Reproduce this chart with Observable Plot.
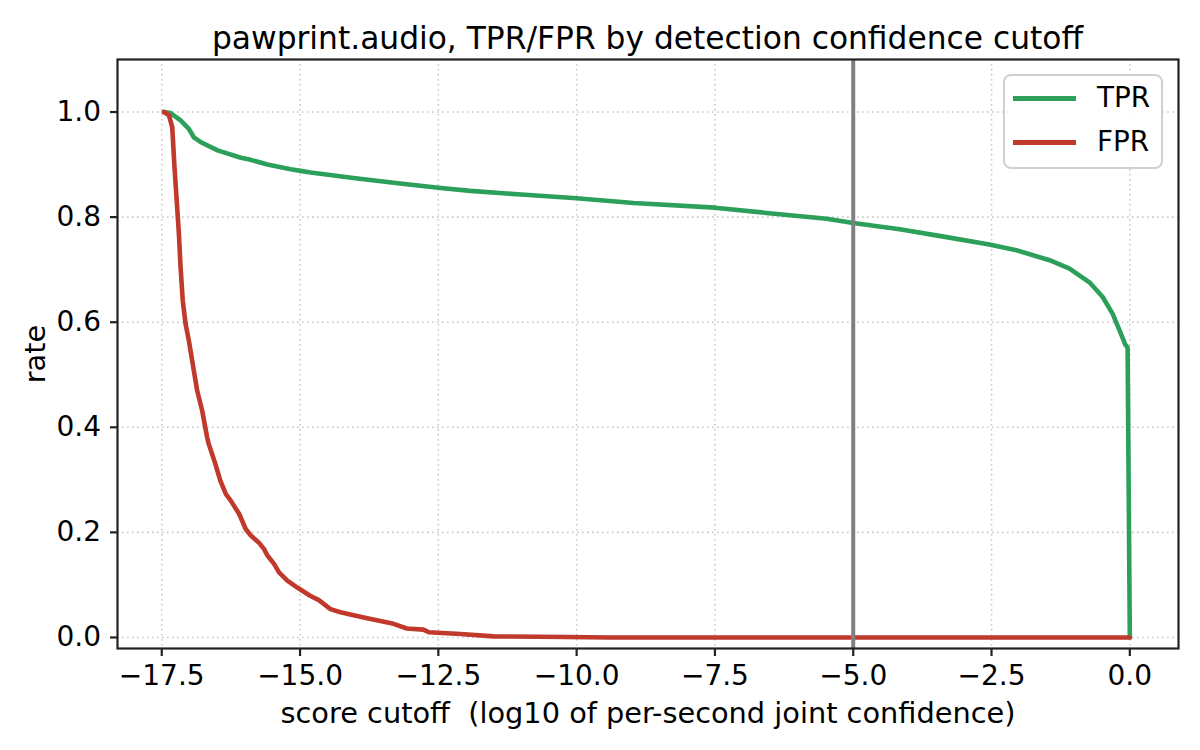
<!DOCTYPE html>
<html>
<head>
<meta charset="utf-8">
<script src="https://cdn.jsdelivr.net/npm/d3@7"></script>
<script src="https://cdn.jsdelivr.net/npm/@observablehq/plot@0.6"></script>
<style>
  html, body { margin: 0; padding: 0; background: #fff; }
  body { width: 1200px; position: relative; font-family: "DejaVu Sans", sans-serif; }
  #title { height: 50px; box-sizing: border-box; margin-left: 117px; width: 1061px; text-align: center;
           font-size: 31.3px; line-height: 32px; padding-top: 22px; color: #000; white-space: nowrap; }
  #legend { position: absolute; left: 1003px; top: 74px; width: 160px; height: 95px; box-sizing: border-box;
            border: 2px solid #d0d0d0; border-radius: 8px; background: rgba(255,255,255,0.85); }
  .lg-row { position: absolute; left: 0; width: 100%; height: 40px; }
  .lg-line { position: absolute; left: 8px; width: 63px; height: 4.5px; }
  .lg-text { position: absolute; left: 92px; font-size: 27.8px; line-height: 28px; color: #000; }
</style>
</head>
<body>
<div id="title">pawprint.audio, TPR/FPR by detection confidence cutoff</div>
<div id="chart"></div>
<div id="legend"></div>
<script>
// ---- data ----
const tprX = [-17.46, -17.34, -17.16, -17.01, -16.92, -16.80, -16.49, -16.07, -15.89, -15.59, -15.17, -14.99, -14.81, -14.0, -13.19, -12.5, -11.92, -11.0, -10.0, -8.97, -7.5, -6.57, -5.48, -5.0, -4.16, -3.26, -2.54, -2.05, -1.45, -1.09, -0.73, -0.49, -0.31, -0.16, -0.08, -0.04, 0.0];
const tprY = [1.0, 0.998, 0.984, 0.968, 0.952, 0.943, 0.927, 0.913, 0.909, 0.900, 0.891, 0.888, 0.885, 0.874, 0.864, 0.856, 0.850, 0.843, 0.836, 0.827, 0.818, 0.808, 0.797, 0.789, 0.777, 0.761, 0.748, 0.737, 0.718, 0.702, 0.676, 0.648, 0.616, 0.578, 0.557, 0.552, 0.0];

const fprX = [-17.46, -17.37, -17.31, -17.27, -17.23, -17.19, -17.16, -17.12, -17.07, -17.01, -16.95, -16.86, -16.77, -16.68, -16.65, -16.53, -16.44, -16.34, -16.25, -16.10, -15.98, -15.89, -15.74, -15.65, -15.59, -15.47, -15.38, -15.23, -15.05, -14.81, -14.66, -14.45, -14.27, -13.85, -13.31, -13.07, -12.77, -12.67, -12.10, -11.50, -10.18, -9.4, 0.0];
const fprY = [1.0, 0.994, 0.971, 0.895, 0.832, 0.768, 0.705, 0.641, 0.597, 0.565, 0.527, 0.470, 0.432, 0.381, 0.368, 0.330, 0.298, 0.273, 0.260, 0.235, 0.206, 0.194, 0.180, 0.168, 0.156, 0.140, 0.124, 0.108, 0.095, 0.079, 0.071, 0.054, 0.048, 0.038, 0.026, 0.017, 0.015, 0.010, 0.0065, 0.002, 0.001, 0.0, 0.0];

const xTicks = [-17.5, -15.0, -12.5, -10.0, -7.5, -5.0, -2.5, 0.0];
const yTicks = [0.0, 0.2, 0.4, 0.6, 0.8, 1.0];
const cutoff = [-5.0];

const seriesNames = ["TPR", "FPR"];
const seriesColors = ["#2ca05a", "#c0392b"];

const xLabel = "score cutoff \u00a0(log10 of per-second joint confidence)";
const yLabel = "rate";

// ---- build tables ----
const tpr = tprX.map((x, i) => ({x, y: tprY[i]}));
const fpr = fprX.map((x, i) => ({x, y: fprY[i]}));
const fmt = d => (d < 0 ? "\u2212" : "") + Math.abs(d).toFixed(1);

const chart = Plot.plot({
  width: 1200,
  height: 700,
  marginTop: 9,
  marginBottom: 102,
  marginLeft: 117,
  marginRight: 22,
  style: {fontFamily: "DejaVu Sans, sans-serif", fontSize: "28px", color: "#000", background: "#fff"},
  x: {domain: [-18.30, 0.88]},
  y: {domain: [-0.021, 1.1]},
  marks: [
    Plot.gridX(xTicks, {stroke: "#c8c8c8", strokeOpacity: 1, strokeWidth: 1.6, strokeDasharray: "1.6,3.4"}),
    Plot.gridY(yTicks, {stroke: "#c8c8c8", strokeOpacity: 1, strokeWidth: 1.6, strokeDasharray: "1.6,3.4"}),
    Plot.line(tpr, {x: "x", y: "y", stroke: seriesColors[0], strokeWidth: 4.6}),
    Plot.line(fpr, {x: "x", y: "y", stroke: seriesColors[1], strokeWidth: 4.6}),
    Plot.ruleX(cutoff, {stroke: "#808080", strokeWidth: 4}),
    Plot.frame({stroke: "#222", strokeWidth: 2.2}),
    Plot.axisX(xTicks, {tickFormat: fmt, tickSize: 8, tickPadding: 9, strokeWidth: 2.2, stroke: "#222", fontSize: 28, label: null}),
    Plot.axisY(yTicks, {tickFormat: fmt, tickSize: 7, tickPadding: 9.5, strokeWidth: 2.2, stroke: "#222", fontSize: 28, label: null}),
    Plot.text([xLabel], {frameAnchor: "bottom", lineAnchor: "middle", textAnchor: "middle", dy: 65, fontSize: 28.8, fill: "#000"}),
    Plot.text([yLabel], {frameAnchor: "left", lineAnchor: "middle", textAnchor: "middle", dx: -82, rotate: -90, fontSize: 28.8, fill: "#000"})
  ]
});
document.getElementById("chart").appendChild(chart);

// ---- legend ----
const lg = document.getElementById("legend");
seriesNames.forEach((name, i) => {
  const row = document.createElement("div");
  row.className = "lg-row";
  row.style.top = (i === 0 ? 2 : 46) + "px";
  const ln = document.createElement("div");
  ln.className = "lg-line";
  ln.style.background = seriesColors[i];
  ln.style.top = "18px";
  const tx = document.createElement("div");
  tx.className = "lg-text";
  tx.style.top = "6px";
  tx.textContent = name;
  row.appendChild(ln);
  row.appendChild(tx);
  lg.appendChild(row);
});
</script>
</body>
</html>
